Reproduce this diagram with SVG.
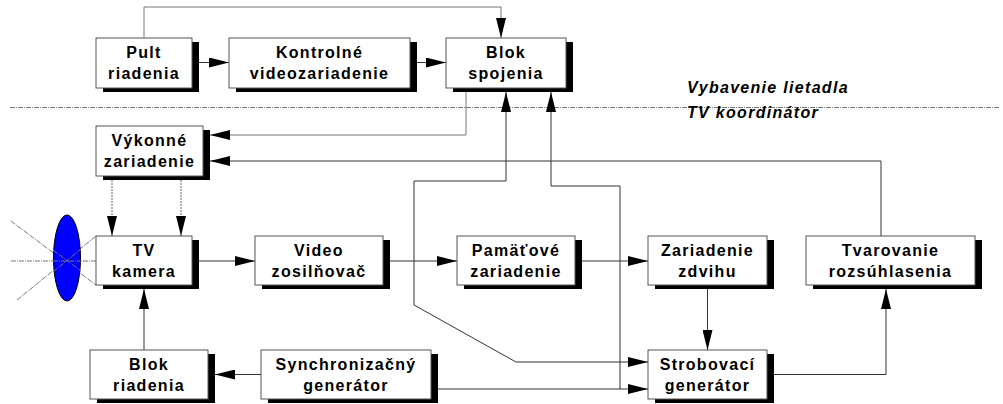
<svg xmlns="http://www.w3.org/2000/svg" width="1003" height="404" viewBox="0 0 1003 404">
<style>
.bx{fill:#fff;stroke:#555;stroke-width:1}
.sh{fill:#000}
.t{font-family:"Liberation Sans",Arial,sans-serif;font-weight:bold;font-size:16px;letter-spacing:1.3px;text-anchor:middle;fill:#000}
.lbl{font-family:"Liberation Sans",Arial,sans-serif;font-weight:bold;font-style:italic;font-size:16px;letter-spacing:1.3px;fill:#000}
.c{fill:none;stroke:#333;stroke-width:1}
.g{fill:none;stroke:#777;stroke-width:1}
.d{fill:none;stroke:#666;stroke-width:1;stroke-dasharray:2 1}
.dd{fill:none;stroke:#777;stroke-width:1;stroke-dasharray:5 1 1 1}
</style>
<defs>
<marker id="a" viewBox="0 0 20 10" refX="20" refY="5" markerWidth="20" markerHeight="10" markerUnits="userSpaceOnUse" orient="auto-start-reverse">
<path d="M0,0 L20,5 L0,10 z" fill="#000"/>
</marker>
</defs>
<rect width="1003" height="404" fill="#fff"/>
<!-- separator -->
<path class="dd" d="M10,107.5 H1000"/>
<text class="lbl" x="687" y="93">Vybavenie lietadla</text>
<text class="lbl" x="687" y="118">TV koordinátor</text>
<!-- lens -->
<g id="lens">
<path class="dd" d="M11,261 H96"/>
<path class="dd" d="M11,221 L96,285"/>
<path class="dd" d="M17,300 L96,236"/>
<ellipse cx="67" cy="258" rx="13.5" ry="43" fill="#0000ff" stroke="#000" stroke-width="1"/>
<path class="dd" d="M53,261 H81"/>
<path class="dd" d="M53,250 L81,271"/>
<path class="dd" d="M53,272 L81,249"/>
</g>
<!-- connectors -->
<g id="connectors">
<path class="g" d="M144,38 V7 H501 V38" marker-end="url(#a)"/>
<path class="c" d="M199,62.5 H229" marker-end="url(#a)"/>
<path class="c" d="M417,62.5 H446" marker-end="url(#a)"/>
<path class="g" d="M466,92 V135 H210" marker-end="url(#a)"/>
<path class="c" d="M881,236 V161 H210" marker-end="url(#a)"/>
<path class="d" d="M112,180 V236" marker-end="url(#a)"/>
<path class="d" d="M181,180 V236" marker-end="url(#a)"/>
<path class="c" d="M506,92 V181 H414 V305 L516,362 H648" marker-start="url(#a)" marker-end="url(#a)"/>
<path class="c" d="M551,92 V186 H620 V389" marker-start="url(#a)"/>
<path class="c" d="M199,261 H255" marker-end="url(#a)"/>
<path class="c" d="M390,261 H457" marker-end="url(#a)"/>
<path class="c" d="M582,261 H648" marker-end="url(#a)"/>
<path class="c" d="M707.5,289 V350" marker-end="url(#a)"/>
<path class="c" d="M774,374.5 H886 V289" marker-end="url(#a)"/>
<path class="c" d="M144,350 V289" marker-end="url(#a)"/>
<path class="c" d="M261,374.5 H215" marker-end="url(#a)"/>
<path class="c" d="M438,389 H648" marker-end="url(#a)"/>
</g>
<!-- nodes -->
<g id="pult"><rect class="sh" x="103" y="42" width="96" height="50"/><rect class="bx" x="96" y="38" width="96" height="50"/><text class="t" x="144" y="57.5">Pult</text><text class="t" x="144" y="78.5">riadenia</text></g>
<g id="kontrolne"><rect class="sh" x="236" y="42" width="181" height="50"/><rect class="bx" x="229" y="38" width="181" height="50"/><text class="t" x="319.5" y="57.5">Kontrolné</text><text class="t" x="319.5" y="78.5">videozariadenie</text></g>
<g id="blok-spojenia"><rect class="sh" x="453" y="42" width="120" height="50"/><rect class="bx" x="446" y="38" width="120" height="50"/><text class="t" x="506" y="57.5">Blok</text><text class="t" x="506" y="78.5">spojenia</text></g>
<g id="vykonne"><rect class="sh" x="103" y="130" width="107" height="50"/><rect class="bx" x="96" y="126" width="107" height="50"/><text class="t" x="149.5" y="145.5">Výkonné</text><text class="t" x="149.5" y="166.5">zariadenie</text></g>
<g id="tv-kamera"><rect class="sh" x="103" y="240" width="96" height="49"/><rect class="bx" x="96" y="236" width="96" height="49"/><text class="t" x="144" y="255.5">TV</text><text class="t" x="144" y="276.5">kamera</text></g>
<g id="video"><rect class="sh" x="262" y="240" width="128" height="49"/><rect class="bx" x="255" y="236" width="128" height="49"/><text class="t" x="319" y="255.5">Video</text><text class="t" x="319" y="276.5">zosilňovač</text></g>
<g id="pamatove"><rect class="sh" x="464" y="240" width="118" height="49"/><rect class="bx" x="457" y="236" width="118" height="49"/><text class="t" x="516" y="255.5">Pamäťové</text><text class="t" x="516" y="276.5">zariadenie</text></g>
<g id="zdvihu"><rect class="sh" x="655" y="240" width="119" height="49"/><rect class="bx" x="648" y="236" width="119" height="49"/><text class="t" x="707.5" y="255.5">Zariadenie</text><text class="t" x="707.5" y="276.5">zdvihu</text></g>
<g id="tvarovanie"><rect class="sh" x="813" y="240" width="169" height="49"/><rect class="bx" x="806" y="236" width="169" height="49"/><text class="t" x="890.5" y="255.5">Tvarovanie</text><text class="t" x="890.5" y="276.5">rozsúhlasenia</text></g>
<g id="blok-riadenia"><rect class="sh" x="97" y="354" width="118" height="49"/><rect class="bx" x="90" y="350" width="118" height="49"/><text class="t" x="149" y="369.5">Blok</text><text class="t" x="149" y="390.5">riadenia</text></g>
<g id="synchro"><rect class="sh" x="268" y="354" width="170" height="49"/><rect class="bx" x="261" y="350" width="170" height="49"/><text class="t" x="346" y="369.5">Synchronizačný</text><text class="t" x="346" y="390.5">generátor</text></g>
<g id="strobovaci"><rect class="sh" x="655" y="354" width="119" height="49"/><rect class="bx" x="648" y="350" width="119" height="49"/><text class="t" x="707.5" y="369.5">Strobovací</text><text class="t" x="707.5" y="390.5">generátor</text></g>
</svg>
